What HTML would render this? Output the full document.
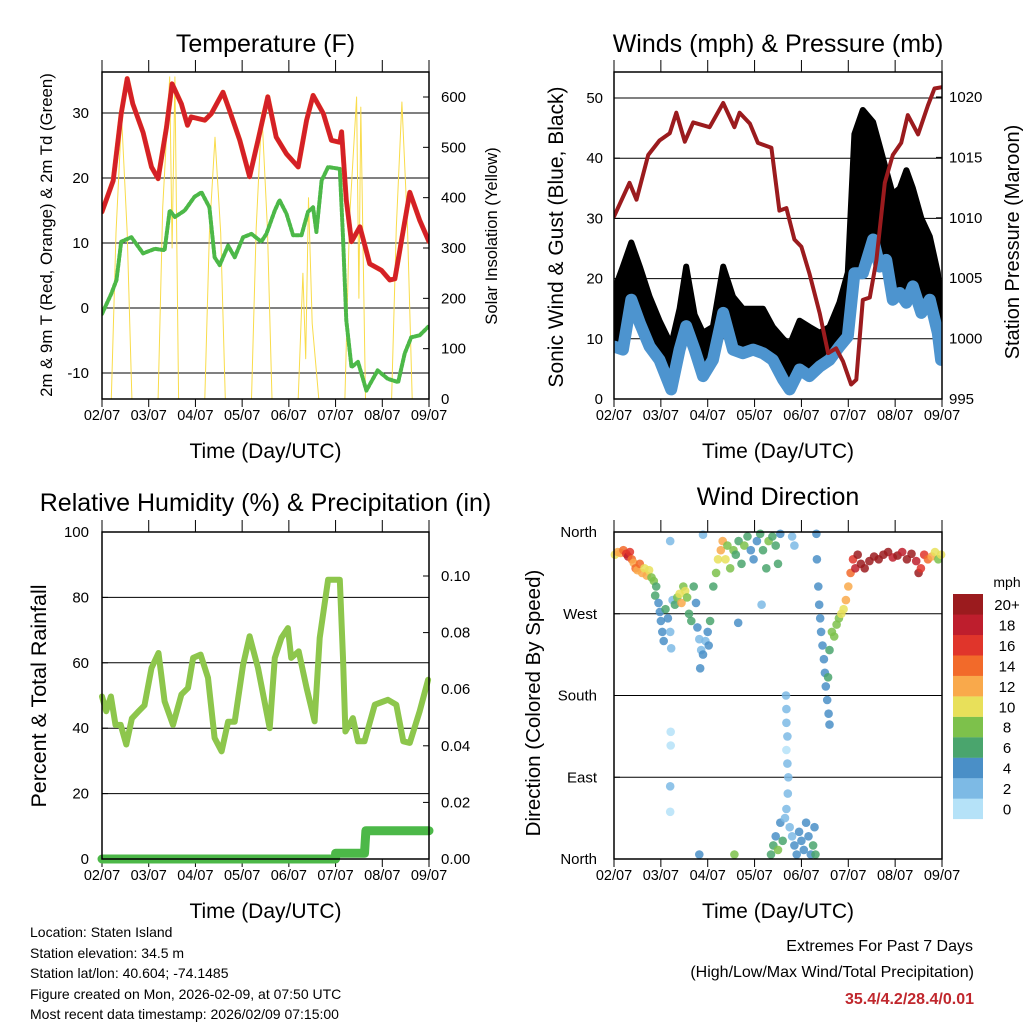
<!DOCTYPE html>
<html><head><meta charset="utf-8"><style>
html,body{margin:0;padding:0;background:#fff;}
svg{display:block;font-family:"Liberation Sans",sans-serif;}
</style></head><body>
<svg id="chart" width="1024" height="1024" viewBox="0 0 1024 1024" xmlns="http://www.w3.org/2000/svg">
<rect width="1024" height="1024" fill="#fff"/>
<g id="p1"></g>
<g id="p2"></g>
<g id="p3"></g>
<g id="p4"></g>
<g font-size="14" fill="#000">
<text x="30" y="937">Location: Staten Island</text>
<text x="30" y="958">Station elevation: 34.5 m</text>
<text x="30" y="978">Station lat/lon: 40.604; -74.1485</text>
<text x="30" y="999">Figure created on Mon, 2026-02-09, at 07:50 UTC</text>
<text x="30" y="1019">Most recent data timestamp: 2026/02/09 07:15:00</text>
</g>
<g text-anchor="end">
<text x="973" y="951" font-size="16">Extremes For Past 7 Days</text>
<text x="974" y="977" font-size="16">(High/Low/Max Wind/Total Precipitation)</text>
<text x="974" y="1004" font-size="16" font-weight="bold" fill="#c0272d">35.4/4.2/28.4/0.01</text>
</g>
</svg>
<script>
// ---------- data ----------
var xLabels = ["02/07","03/07","04/07","05/07","06/07","07/07","08/07","09/07"];
var tempT = [0,0.24,0.41,0.54,0.66,0.88,1.06,1.2,1.38,1.5,1.7,1.83,1.91,2.2,2.34,2.59,2.73,2.95,3.16,3.34,3.55,3.73,3.95,4.2,4.38,4.52,4.74,4.91,5.09,5.13,5.23,5.34,5.52,5.73,5.98,6.16,6.27,6.59,6.8,7];
var tempV = [14.8,19.6,29.9,35.3,31.4,27,21.7,19.9,27.8,34.5,31.4,28.1,29.4,28.9,29.9,33.2,30.4,25.8,20.2,25.8,32.5,26.3,23.7,21.7,28.9,32.7,29.9,25.8,25.5,27.1,16.6,10.2,12.5,6.8,5.8,4.3,4.5,17.8,13.5,10.2];
var dewT = [0,0.2,0.31,0.41,0.63,0.88,1.13,1.34,1.45,1.56,1.77,1.98,2.13,2.3,2.41,2.52,2.7,2.84,3.02,3.2,3.41,3.52,3.7,3.8,3.95,4.09,4.27,4.41,4.52,4.59,4.7,4.84,5.09,5.16,5.23,5.34,5.48,5.66,5.9,6.12,6.34,6.48,6.62,6.8,6.98];
var dewV = [-0.9,2.2,4.3,10.2,10.9,8.4,9.1,8.9,15,14,15,17.1,17.8,15.5,7.8,6.6,9.6,7.8,10.9,11.4,10.2,11.4,15,16.6,14.5,11.2,11.2,14.8,15.5,11.7,19.6,21.7,21.4,10.9,-1.9,-9.1,-8.3,-12.7,-9.6,-10.9,-11.4,-7,-4.5,-4.2,-2.9];
var solarT = [0,0.2,0.3,0.42,0.54,0.64,1.2,1.3,1.45,1.5,1.56,1.64,2.2,2.3,2.42,2.54,2.64,3.2,3.3,3.42,3.54,3.64,4.2,4.3,4.36,4.42,4.5,4.64,5.2,5.3,5.45,5.5,5.54,5.64,6.2,6.3,6.42,6.54,6.64,7];
var solarV = [0,0,330,560,330,0,0,380,640,300,640,0,0,330,520,330,0,0,340,570,340,0,0,250,80,400,150,0,0,360,600,200,580,0,0,340,590,340,0,0];
var presT = [0,0.33,0.48,0.73,0.97,1.19,1.33,1.51,1.69,2.04,2.33,2.57,2.68,2.9,3.07,3.36,3.53,3.68,3.85,4,4.17,4.39,4.57,4.74,4.89,5.06,5.17,5.31,5.46,5.6,5.78,5.95,6.13,6.27,6.49,6.7,6.84,6.98];
var presV = [1010.1,1012.9,1011.5,1015.2,1016.4,1017,1018.7,1016.3,1017.9,1017.5,1019.5,1017.5,1018.7,1017.8,1016.2,1015.8,1010.6,1010.8,1008.2,1007.6,1005.4,1002.1,998.8,999.2,998.1,996.2,996.6,1003.2,1003.4,1006.5,1012.9,1015.2,1016.2,1018.5,1016.9,1019.3,1020.7,1020.8];
var windT = [0,0.19,0.37,0.55,0.76,0.97,1.22,1.4,1.54,1.72,1.9,2.11,2.33,2.54,2.75,2.97,3.18,3.39,3.61,3.75,3.96,4.17,4.39,4.6,4.81,4.99,5.13,5.31,5.53,5.67,5.81,5.95,6.1,6.24,6.38,6.56,6.74,6.91,6.98];
var windV = [8.7,8.2,16.5,12.6,8.7,6.5,1.6,8.2,12.1,8.2,3.8,6.5,14.3,8.2,7.6,8.2,7.6,6.5,3.2,1.6,4.9,3.8,5.4,6.5,8.7,10.4,20.9,20.9,26.5,22,23.1,16.5,17.6,16,18.7,14.3,16.5,11,6.5];
var gustMax = [18,22,26,22,17,13,9,15,22,14,11,12,22,17,15,15,15,12,10,9,13,12,11,12,16,21,44,48,46,42,38,34,35,38,35,30,27,21,15];
var rhT = [0,0.09,0.19,0.29,0.4,0.52,0.64,0.77,0.91,1.06,1.21,1.34,1.52,1.7,1.84,1.95,2.11,2.27,2.41,2.56,2.7,2.84,3.02,3.16,3.34,3.59,3.7,3.84,3.98,4.05,4.21,4.38,4.55,4.66,4.84,5.09,5.16,5.21,5.37,5.48,5.62,5.84,6.12,6.3,6.45,6.59,6.8,6.98];
var rhV = [49.7,45.2,49.7,41,41,35,43,45,47,58.4,63,48.2,41,50.3,52.3,61.5,62.5,55.4,37,32.9,42,42,59.4,68.1,58.4,40,61.5,67.6,70.6,61.5,63.5,52.3,42.1,67.6,85.4,85.4,61.5,39,43.1,36,36,47.2,48.7,47.2,36,35.5,45.2,54.8];
var precipT = [0,5.0,5.0,5.62,5.65,7];
var precipV = [0,0,0.002,0.002,0.01,0.01];
var dirDay = [
0.02,0.08,0.14,0.2,0.26,0.3,0.34,0.38,0.42,0.46,
0.5,0.55,0.6,0.65,0.7,0.75,0.8,0.85,0.9,0.88,
0.95,0.98,1.0,1.03,1.06,1.1,1.15,1.2,1.22,1.25,
1.3,1.35,1.4,1.44,1.48,1.52,1.56,1.6,1.65,1.7,
1.75,1.78,1.82,1.86,1.9,1.95,2.0,2.05,2.02,1.84,
2.12,2.18,2.22,2.28,2.32,2.38,2.42,2.48,2.55,2.6,
2.66,2.72,2.78,2.85,2.92,2.98,3.05,3.12,3.18,3.25,
3.3,3.38,3.45,3.5,3.55,3.8,3.85,3.15,2.65,1.2,
1.9,4.32,4.33,4.36,4.38,4.4,4.42,4.45,4.48,4.5,
4.52,4.55,4.58,4.6,4.57,4.6,4.65,4.7,4.75,4.8,
4.85,4.9,4.95,5.0,5.05,5.1,5.15,5.2,5.27,5.35,
5.45,5.55,5.65,5.75,5.85,5.95,6.05,6.15,6.25,6.35,
6.45,6.5,6.55,6.62,6.7,6.78,6.85,6.92,6.98,3.67,
3.68,3.68,3.7,3.68,3.7,3.72,3.71,3.68,3.35,3.4,
3.45,3.5,3.55,3.6,3.65,3.75,3.8,3.85,3.9,3.95,
4.0,4.05,4.1,4.15,4.2,4.25,4.28,4.3,1.21,1.21,
1.2,1.2,1.82,2.57];
var dirDeg = [
335,338,337,340,336,333,338,330,326,320,
318,325,315,320,312,318,310,306,300,290,
282,272,262,250,240,275,265,250,232,285,
280,288,292,282,300,295,288,270,262,300,
282,255,242,230,225,240,250,262,235,210,
300,315,330,340,350,330,345,320,340,335,
350,325,345,355,340,330,350,358,340,320,
350,355,345,325,358,355,345,280,260,350,
357,358,330,300,280,265,250,235,220,205,
190,175,160,148,200,230,250,245,258,265,
270,275,285,300,315,330,320,335,325,320,
328,333,330,335,338,332,334,338,330,336,
328,315,320,335,330,333,338,330,335,180,
165,150,135,120,105,90,72,55,5,15,
25,10,40,20,45,35,25,15,5,30,
20,10,40,25,5,15,35,5,140,125,
80,52,5,5];
var dirSpd = [
10,12,12,14,16,18,16,14,12,14,
12,14,12,10,12,10,8,8,6,6,
4,4,4,4,4,6,4,2,2,2,
6,8,10,12,8,10,8,6,6,6,
4,4,2,2,4,2,4,6,4,4,
6,8,10,12,12,10,8,8,8,6,
6,6,8,6,4,4,4,6,6,6,
8,6,6,6,4,2,2,2,4,2,
2,4,4,4,4,4,4,4,4,4,
4,4,4,4,6,6,8,8,8,8,
10,10,12,12,14,16,18,20,20,20,
20,20,20,20,20,18,20,18,20,20,
18,20,16,16,14,12,10,8,10,2,
2,2,2,0,2,2,2,2,6,6,
4,8,4,6,2,2,2,4,4,4,
4,4,4,4,4,6,4,6,0,0,
2,0,4,8];
var spdColors = ["#b5e2f8","#7dbae5","#4a8fc7","#4aa56d","#7dc14b","#e8e05a","#f9a94b","#f26a2a","#e0352b","#be1e2d","#9b1b1e"];
var spdLabels = ["0","2","4","6","8","10","12","14","16","18","20+"];

// ---------- helpers ----------
var NS="http://www.w3.org/2000/svg";
function mk(parent,tag,attrs,txt){var e=document.createElementNS(NS,tag);for(var k in attrs)e.setAttribute(k,attrs[k]);if(txt!==undefined)e.textContent=txt;parent.appendChild(e);return e;}
function lin(d0,d1,r0,r1){return function(v){return r0+(v-d0)/(d1-d0)*(r1-r0);};}
function poly(g,xs,ys,sx,sy,stroke,w,name){
  var pts=xs.map(function(t,i){return sx(t).toFixed(1)+","+sy(ys[i]).toFixed(1);}).join(" ");
  var e=mk(g,"polyline",{points:pts,fill:"none",stroke:stroke,"stroke-width":w,"stroke-linejoin":"round","stroke-linecap":"round"});
  
  
  return e;
}
function frame(g,L,T,R,B,title,titleY){
  var sx=lin(0,7,L,R);
  var t=mk(g,"text",{x:(L+R)/2,y:titleY,"text-anchor":"middle","font-size":"25"},title);
  
  
  var xa=mk(g,"text",{x:(L+R)/2,y:B+59,"text-anchor":"middle","font-size":"21"},"Time (Day/UTC)");
  
  
  for(var i=0;i<xLabels.length;i++){
    var x=sx(i);
    mk(g,"line",{x1:x,y1:T-12,x2:x,y2:T,stroke:"#000","stroke-width":1});
    mk(g,"line",{x1:x,y1:B,x2:x,y2:B+8,stroke:"#000","stroke-width":1});
    var l=mk(g,"text",{x:x,y:B+21,"text-anchor":"middle","font-size":"14.5"},xLabels[i]);
    
    
  }
  return sx;
}
function border(g,L,T,R,B){
  var r=mk(g,"rect",{x:L,y:T,width:R-L,height:B-T,fill:"none",stroke:"#000","stroke-width":1.5});
  
  
}
function yTicks(g,vals,sy,x,anchor,L,R,grid,labelsFmt,side){
  vals.forEach(function(v){
    var y=sy(v);
    if(grid) mk(g,"line",{x1:L,y1:y,x2:R,y2:y,stroke:"#000","stroke-width":1});
    if(side==="l") mk(g,"line",{x1:L,y1:y,x2:L+6,y2:y,stroke:"#000"}); else mk(g,"line",{x1:R-6,y1:y,x2:R,y2:y,stroke:"#000"});
    var t=mk(g,"text",{x:x,y:y+5,"text-anchor":anchor,"font-size":"15"},labelsFmt(v));
    
    
  });
}
function vTitle(g,x,y,txt,size,name){
  var t=mk(g,"text",{x:x,y:y,"text-anchor":"middle","font-size":size,transform:"rotate(-90 "+x+" "+y+")"},txt);
  
  
}

// ---------- Panel 1: Temperature ----------
(function(){
  var g=document.getElementById("p1"),L=102,T=72,R=429,B=399;
  var sx=frame(g,L,T,R,B,"Temperature (F)",52);
  var sy=lin(-10,30,373,113), sr=lin(0,600,399,97);
  yTicks(g,[-10,0,10,20,30],sy,89,"end",L,R,true,function(v){return v;},"l");
  yTicks(g,[0,100,200,300,400,500,600],sr,441,"start",L,R,false,function(v){return v;},"r");
  var cp=mk(g,"clipPath",{id:"c1"});mk(cp,"rect",{x:L,y:T,width:R-L,height:B-T});
  var d=mk(g,"g",{"clip-path":"url(#c1)"});
  poly(d,solarT,solarV,sx,sr,"#f9dc4a",1,"solar-line");
  poly(d,dewT,dewV,sx,sy,"#4cb848",4,"dewpoint-line").setAttribute("stroke-dasharray","3 2");
  poly(d,tempT,tempV,sx,sy,"#f26a2a",5,"temp-9m-line");
  poly(d,tempT,tempV,sx,sy,"#d42027",4.5,"temp-2m-line");
  border(g,L,T,R,B);
  vTitle(g,52,235,"2m & 9m T (Red, Orange) & 2m Td (Green)",16.8,"y-axis-title");
  vTitle(g,497,236,"Solar Insolation (Yellow)",16.6,"y2-axis-title");
})();

// ---------- Panel 2: Winds ----------
(function(){
  var g=document.getElementById("p2"),L=614,T=72,R=942,B=399;
  var sx=frame(g,L,T,R,B,"Winds (mph) & Pressure (mb)",52);
  var sy=lin(0,50,399,98), sr=lin(995,1020,399,97);
  yTicks(g,[0,10,20,30,40,50],sy,603,"end",L,R,true,function(v){return v;},"l");
  yTicks(g,[995,1000,1005,1010,1015,1020],sr,949,"start",L,R,false,function(v){return v;},"r");
  var cp=mk(g,"clipPath",{id:"c2"});mk(cp,"rect",{x:L,y:T,width:R-L,height:B-T});
  var d=mk(g,"g",{"clip-path":"url(#c2)"});
  var up=windT.map(function(t,i){return sx(t).toFixed(1)+","+sy(gustMax[i]).toFixed(1);});
  var lo=windT.map(function(t,i){return sx(t).toFixed(1)+","+sy(windV[i]).toFixed(1);}).reverse();
  var band=mk(d,"polygon",{points:up.concat(lo).join(" "),fill:"#000",stroke:"#000","stroke-width":6,"stroke-linejoin":"round"});
  
  
  poly(d,windT,windV,sx,sy,"#4d94cf",12,"wind-band");
  poly(d,presT,presV,sx,sr,"#9b1b1e",4,"pressure-line");
  border(g,L,T,R,B);
  vTitle(g,563,237,"Sonic Wind & Gust (Blue, Black)",21,"y-axis-title");
  vTitle(g,1019,242,"Station Pressure (Maroon)",20,"y2-axis-title");
})();

// ---------- Panel 3: RH ----------
(function(){
  var g=document.getElementById("p3"),L=102,T=532,R=429,B=859;
  var sx=frame(g,L,T,R,B,"Relative Humidity (%) & Precipitation (in)",511);
  var sy=lin(0,100,859,532), sr=lin(0,0.1,859,576);
  yTicks(g,[0,20,40,60,80,100],sy,89,"end",L,R,true,function(v){return v;},"l");
  yTicks(g,[0,0.02,0.04,0.06,0.08,0.10],sr,441,"start",L,R,false,function(v){return v.toFixed(2);},"r");
  var cp=mk(g,"clipPath",{id:"c3"});mk(cp,"rect",{x:L-6,y:T,width:R-L+12,height:B-T+8});
  var d=mk(g,"g",{"clip-path":"url(#c3)"});
  poly(d,rhT,rhV,sx,sy,"#8dc64c",6,"rh-line");
  poly(d,precipT,precipV,sx,sr,"#4cb848",9,"precip-line");
  border(g,L,T,R,B);
  vTitle(g,46,696,"Percent & Total Rainfall",21.5,"y-axis-title");
})();

// ---------- Panel 4: Wind direction ----------
(function(){
  var g=document.getElementById("p4"),L=614,T=532,R=942,B=859;
  var sx=frame(g,L,T,R,B,"Wind Direction",505);
  var sy=lin(0,360,859,532);
  var names=["North","East","South","West","North"];
  yTicks(g,[0,90,180,270,360],sy,597,"end",L,R,true,function(v){return names[v/90];},"l");
  var d=mk(g,"g",{"fill-opacity":"0.85"});
  for(var i=0;i<dirDay.length;i++){
    var bin=Math.min(10,Math.floor(dirSpd[i]/2));
    var c=mk(d,"circle",{cx:sx(dirDay[i]).toFixed(1),cy:sy(dirDeg[i]).toFixed(1),r:4.3,fill:spdColors[bin]});
    
    
  }
  border(g,L,T,R,B);
  vTitle(g,540,703,"Direction (Colored By Speed)",20.5,"y-axis-title");
  var lg=mk(g,"g",{});
  
  
  var u=mk(lg,"text",{x:1007,y:587,"text-anchor":"middle","font-size":"14"},"mph");
  
  
  for(var k=0;k<11;k++){
    var y=594+(10-k)*20.45;
    var b=mk(lg,"rect",{x:953,y:y,width:30,height:20.6,fill:spdColors[k]});
    
    
    var t=mk(lg,"text",{x:1007,y:y+16,"text-anchor":"middle","font-size":"15"},spdLabels[k]);
    
    
  }
})();
</script>
</body></html>
